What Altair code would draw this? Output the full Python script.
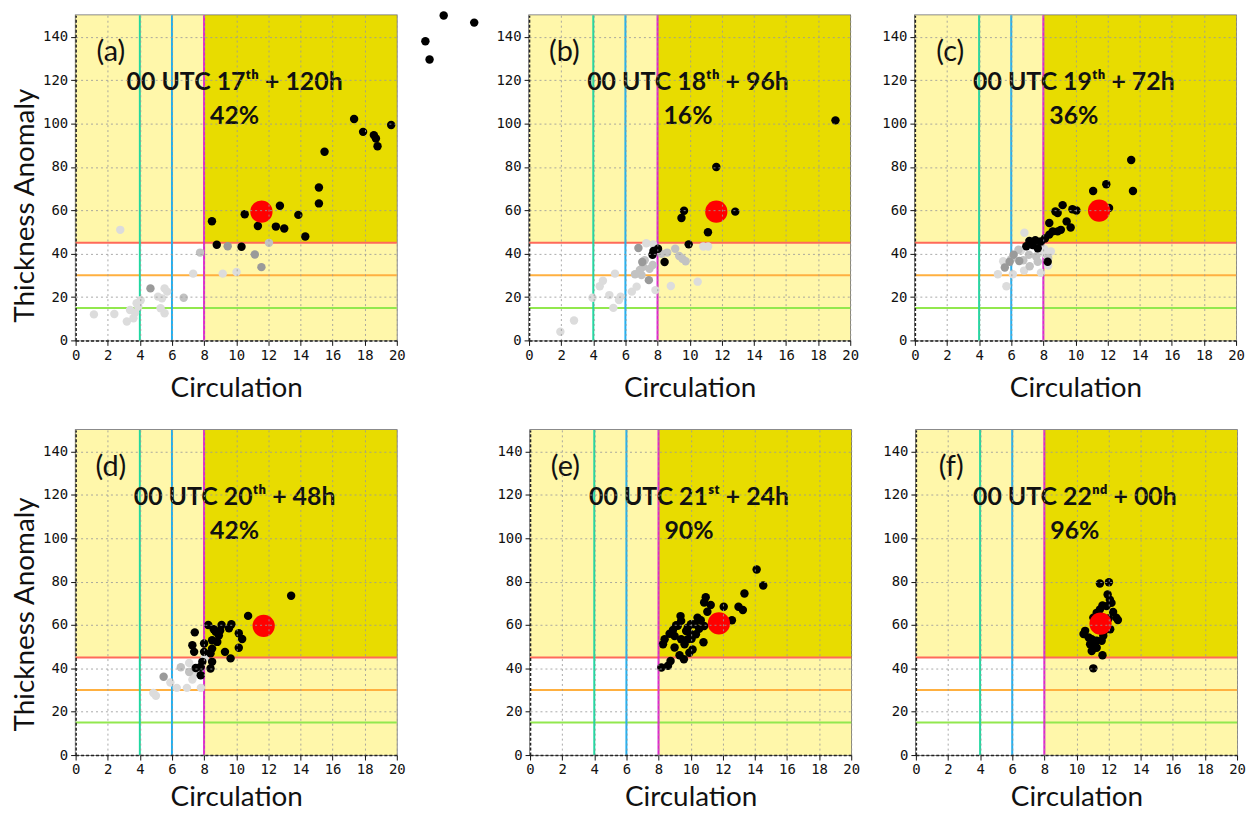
import altair as alt
import pandas as pd

# ---------------- thresholds / regions ----------------
V_LINES = [4, 6, 8]
V_NAMES = ["c4", "c6", "c8"]
H_LINES = [15, 30, 45]
H_NAMES = ["t15", "t30", "t45"]

REG_X = [0, 0, 8, 8]
REG_X2 = [8, 8, 20, 20]
REG_Y = [0, 45, 0, 45]
REG_Y2 = [45, 150, 45, 150]
REG_KIND = ["none", "one", "one", "both"]

X_TICKS = [0, 2, 4, 6, 8, 10, 12, 14, 16, 18, 20]
Y_TICKS = [0, 20, 40, 60, 80, 100, 120, 140]

# ---------------- panel (a) ----------------
A_X = [1.14, 2.41, 3.19, 3.6, 3.39, 3.8, 3.9, 3.7, 4.05, 5.13, 5.54, 5.38, 5.29, 5.54, 5.7, 7.32, 9.16, 10.02, 2.78,
       6.73, 7.75, 12.04,
       4.66, 9.47, 11.16, 11.57,
       8.49, 8.79, 10.33, 10.53, 11.35, 12.72, 12.47, 12.99, 13.87, 14.3, 15.15, 15.15, 15.5,
       17.34, 17.9, 18.57, 18.7, 18.8, 19.65, 21.78, 22.04, 22.92, 24.82]
A_Y = [12.0, 12.2, 8.7, 10.2, 14.0, 17.1, 15.6, 12.8, 18.5, 20.2, 24.0, 19.4, 14.8, 12.5, 22.5, 30.8, 30.8, 31.6, 51.0,
       19.7, 40.5, 45.0,
       24.0, 43.4, 39.6, 33.8,
       55.0, 44.1, 43.2, 58.2, 52.8, 62.1, 52.5, 51.6, 57.9, 47.9, 63.2, 70.5, 87.0,
       102.1, 96.2, 94.7, 93.1, 89.6, 99.4, 138.0, 129.6, 149.9, 146.6]
A_SHADE = ["light"] * 19 + ["mid"] * 3 + ["dark"] * 4 + ["black"] * 23

# ---------------- panel (b) ----------------
B_X = [1.95, 2.8, 3.95, 4.4, 4.6, 5.35, 5.0, 5.25, 5.6, 5.7, 6.4, 6.7, 7.87, 8.83, 10.5, 7.3, 7.73, 10.85, 11.15,
       6.9, 7.1, 7.5, 7.7, 7.0, 7.2, 8.25, 8.6, 9.1, 9.35, 9.55, 9.75, 6.6,
       6.81, 7.46, 7.05,
       19.08, 11.66, 12.84, 9.65, 9.49, 11.14, 9.94, 8.03, 7.69, 7.75, 8.44]
B_Y = [4.0, 9.2, 19.7, 25.0, 27.5, 30.8, 20.9, 15.0, 18.6, 20.2, 22.5, 24.8, 23.2, 25.1, 27.1, 44.8, 44.3, 43.3, 43.3,
       32.5, 34.0, 33.0, 34.8, 30.2, 37.0, 40.0, 40.5, 42.3, 38.9, 37.7, 36.5, 30.5,
       42.6, 27.8, 36.2,
       101.5, 80.0, 59.4, 59.8, 56.5, 49.9, 44.3, 42.3, 39.5, 41.2, 36.2]
B_SHADE = ["light"] * 19 + ["mid"] * 13 + ["dark"] * 3 + ["black"] * 11

# ---------------- panel (c) ----------------
C_X = [6.82, 5.17, 5.7, 5.5, 6.1, 6.8, 7.85, 8.3, 8.47, 8.16, 6.6, 7.75, 8.06,
       6.0, 6.45, 6.75, 7.1, 7.55, 7.15, 7.65, 8.3,
       5.6, 5.9, 6.15, 6.5,
       13.47, 13.58, 11.92, 11.1, 12.09, 10.06, 9.81, 9.2, 8.89, 8.75, 9.45, 9.7, 8.37, 9.09, 8.89, 8.58, 8.37,
       8.1, 7.85, 7.13, 7.33, 7.65, 6.94, 8.27, 7.5]
C_Y = [49.7, 30.5, 25.0, 36.5, 30.5, 32.2, 31.2, 34.5, 41.0, 39.5, 41.5, 40.4, 42.2,
       37.5, 41.8, 37.0, 39.5, 38.7, 34.2, 36.3, 38.0,
       33.6, 36.3, 39.5, 36.6,
       83.2, 68.9, 72.0, 68.9, 61.1, 59.9, 60.5, 62.4, 58.8, 59.5, 54.9, 52.1, 54.2, 51.0, 50.3, 50.3, 48.8,
       47.0, 45.6, 45.9, 44.0, 42.5, 43.4, 36.3, 46.2]
C_SHADE = ["light"] * 13 + ["mid"] * 8 + ["dark"] * 4 + ["black"] * 25

# ---------------- panel (d) ----------------
D_X = [4.84, 5.0, 5.9, 6.3, 6.93, 7.8, 7.07, 7.38, 8.04, 7.27,
       6.55, 7.07,
       5.48,
       13.42, 10.74, 8.26, 9.09, 9.7, 9.55, 8.72, 8.92, 10.16, 10.37, 10.16, 8.82, 8.5, 8.4, 9.3, 8.6, 8.5,
       7.42, 7.27, 7.38, 8.0, 8.0, 9.65, 8.5, 8.4, 7.89, 7.79, 7.48, 7.79, 9.0]
D_Y = [28.6, 27.4, 33.5, 31.0, 31.0, 31.0, 42.5, 37.0, 44.9, 34.8,
       40.5, 38.3,
       36.1,
       73.5, 64.2, 60.0, 60.0, 60.3, 58.5, 56.9, 55.1, 56.2, 53.5, 49.5, 52.2, 49.1, 46.9, 47.6, 58.0, 53.0,
       56.6, 50.7, 47.6, 51.5, 47.6, 44.6, 43.0, 39.9, 43.0, 40.7, 40.2, 36.8, 57.5]
D_SHADE = ["light"] * 10 + ["mid"] * 2 + ["dark"] * 1 + ["black"] * 30

# ---------------- panel (e) ----------------
E_X = [14.11, 14.52, 13.35, 12.98, 13.25, 12.06, 12.57, 10.94, 10.84, 11.25, 11.04, 10.63, 10.84, 10.53, 10.33,
       10.8, 10.02, 9.82, 9.37, 9.41, 9.1, 8.9, 9.72, 10.02, 10.06, 9.82, 9.0, 8.69, 8.38, 8.28, 9.0, 10.12,
       9.92, 9.31, 9.58, 8.75, 8.59, 8.18, 9.41, 9.62, 9.2, 10.23, 10.43, 11.5, 11.9, 12.2]
E_Y = [85.6, 78.2, 74.5, 68.4, 66.9, 68.4, 62.2, 72.8, 70.4, 69.2, 66.1, 62.2, 59.5, 58.3, 55.7,
       52.0, 60.3, 58.8, 64.1, 61.9, 59.9, 57.7, 57.2, 55.7, 53.6, 53.4, 54.9, 56.0, 53.4, 51.1, 49.6, 48.7,
       47.2, 46.0, 44.2, 43.4, 41.2, 40.4, 53.4, 51.1, 59.6, 60.3, 63.4, 62.0, 58.0, 61.5]
E_SHADE = ["black"] * 46

# ---------------- panel (f) ----------------
F_X = [11.46, 12.02, 11.94, 12.08, 12.18, 11.62, 11.87, 11.46, 12.28, 12.48, 12.58, 11.26, 11.05, 10.54, 10.44,
       10.75, 10.95, 10.85, 11.26, 11.57, 11.67, 10.95, 11.1, 11.62, 11.05, 11.26,
       11.3, 11.6, 11.8, 11.4, 11.2, 11.7, 12.0, 12.1]
F_Y = [79.1, 79.7, 74.1, 71.7, 70.2, 69.0, 68.7, 67.2, 66.0, 63.4, 62.3, 65.6, 63.4, 57.3, 55.8,
       54.3, 53.4, 51.1, 52.7, 52.7, 55.0, 48.0, 49.5, 46.0, 40.0, 49.5,
       58.0, 62.0, 60.0, 64.0, 60.0, 57.0, 63.0, 58.0]
F_SHADE = ["black"] * 34

# ---------------- ensemble "truth" (red dots) and annotations ----------------
RED_X = [11.57, 11.66, 11.47, 11.71, 11.76, 11.5]
RED_Y = [59.4, 59.4, 59.9, 59.6, 60.7, 60.6]
LABELS = ["(a)", "(b)", "(c)", "(d)", "(e)", "(f)"]
TITLES = ["00 UTC 17ᵗʰ + 120h", "00 UTC 18ᵗʰ + 96h", "00 UTC 19ᵗʰ + 72h",
          "00 UTC 20ᵗʰ + 48h", "00 UTC 21ˢᵗ + 24h", "00 UTC 22ⁿᵈ + 00h"]
PCTS = ["42%", "16%", "36%", "42%", "90%", "96%"]
LABEL_POS = (2.2, 133)
TITLE_POS = (9.9, 119)
PCT_POS = (9.9, 103.5)

SHADES = ["light", "mid", "dark", "black"]
SHADE_COLORS = ["#dcdcdc", "#c2c2c2", "#9a9a9a", "#000000"]

W, H = 323, 327
FONT = "Lato"

AXIS_STYLE = dict(
    labelOverlap=False, labelFlush=False,
    labelFont="DejaVu Sans Mono", labelFontSize=14, labelColor="#111111", labelPadding=3,
    tickColor="#111111", tickSize=5,
    domainColor="#222222", domainDash=[3, 2], domainWidth=1.5,
    grid=True, gridColor="#9a9a9a", gridDash=[2, 3], gridWidth=1, gridOpacity=0.85,
    titleFont=FONT, titleFontSize=28, titleFontWeight="normal", titleColor="#111111",
    zindex=1,
)


def panel(i, xs, ys, shades, show_ytitle, title_y=182, xtitle_pad=8):
    xsc = alt.Scale(domain=[0, 20], nice=False, zero=False)
    ysc = alt.Scale(domain=[0, 150], nice=False, zero=False)
    xax = alt.Axis(values=X_TICKS, title="Circulation", titlePadding=xtitle_pad, **AXIS_STYLE)
    if show_ytitle:
        yax = alt.Axis(values=Y_TICKS, title="Thickness Anomaly", titlePadding=3, titleY=title_y,
                       **AXIS_STYLE)
    else:
        yax = alt.Axis(values=Y_TICKS, title=None, **AXIS_STYLE)

    def X(field="x"):
        return alt.X(f"{field}:Q", scale=xsc, axis=xax)

    def Y(field="y"):
        return alt.Y(f"{field}:Q", scale=ysc, axis=yax)

    reg = pd.DataFrame({"x": REG_X, "x2": REG_X2, "y": REG_Y, "y2": REG_Y2, "kind": REG_KIND})
    rects = alt.Chart(reg).mark_rect().encode(
        x=X(), x2="x2:Q", y=Y(), y2="y2:Q",
        color=alt.Color("kind:N", scale=alt.Scale(domain=["none", "one", "both"],
                                                   range=["#ffffff", "#fff7aa", "#e8dc00"]), legend=None),
    )
    hdf = pd.DataFrame({"y": H_LINES, "name": H_NAMES})
    hl = alt.Chart(hdf).mark_rule(strokeWidth=2).encode(
        y=Y(),
        color=alt.Color("name:N", scale=alt.Scale(domain=H_NAMES, range=["#92e84e", "#ffb040", "#ff6a5a"]),
                        legend=None),
    )
    vdf = pd.DataFrame({"x": V_LINES, "name": V_NAMES})
    vl = alt.Chart(vdf).mark_rule(strokeWidth=2).encode(
        x=X(),
        color=alt.Color("name:N", scale=alt.Scale(domain=V_NAMES, range=["#20d8a0", "#22b0f0", "#e020d0"]),
                        legend=None),
    )
    pts_df = pd.DataFrame({"x": xs, "y": ys, "shade": shades})
    pts = alt.Chart(pts_df).mark_circle(size=72, opacity=1).encode(
        x=X(), y=Y(),
        color=alt.Color("shade:N", scale=alt.Scale(domain=SHADES, range=SHADE_COLORS), legend=None),
    )
    red_df = pd.DataFrame({"x": [RED_X[i]], "y": [RED_Y[i]]})
    red = alt.Chart(red_df).mark_circle(size=500, opacity=1, color="#ff0000").encode(x=X(), y=Y())

    lab_df = pd.DataFrame({"x": [LABEL_POS[0]], "y": [LABEL_POS[1]], "t": [LABELS[i]]})
    lab = alt.Chart(lab_df).mark_text(font=FONT, fontSize=29, color="#111111").encode(
        x=X(), y=Y(), text="t:N")
    tit_df = pd.DataFrame({"x": [TITLE_POS[0]], "y": [TITLE_POS[1]], "t": [TITLES[i]]})
    tit = alt.Chart(tit_df).mark_text(font=FONT, fontSize=25, fontWeight="bold", color="#111111").encode(
        x=X(), y=Y(), text="t:N")
    pct_df = pd.DataFrame({"x": [PCT_POS[0]], "y": [PCT_POS[1]], "t": [PCTS[i]]})
    pct = alt.Chart(pct_df).mark_text(font=FONT, fontSize=25, fontWeight="bold", color="#111111").encode(
        x=X(), y=Y(), text="t:N")

    return alt.layer(rects, hl, vl, pts, red, lab, tit, pct).resolve_scale(color="independent").properties(
        width=W, height=H)


pa = panel(0, A_X, A_Y, A_SHADE, True, 191, 12)
pb = panel(1, B_X, B_Y, B_SHADE, False, xtitle_pad=12)
pc = panel(2, C_X, C_Y, C_SHADE, False, xtitle_pad=12)
pd_ = panel(3, D_X, D_Y, D_SHADE, True, 185, 7)
pe = panel(4, E_X, E_Y, E_SHADE, False, xtitle_pad=7)
pf = panel(5, F_X, F_Y, F_SHADE, False, xtitle_pad=7)

row1 = alt.hconcat(pa, alt.hconcat(pb, pc, spacing=20), spacing=15)
row2 = alt.hconcat(pd_, alt.hconcat(pe, pf, spacing=20), spacing=89)

chart = alt.vconcat(row1, row2, spacing=25).properties(
    padding={"left": 2, "top": 0, "right": 0, "bottom": 0}
).configure_view(
    stroke="#666666", strokeWidth=1.5
)

chart.save("out.html", embed_options={"renderer": "svg", "actions": False})
